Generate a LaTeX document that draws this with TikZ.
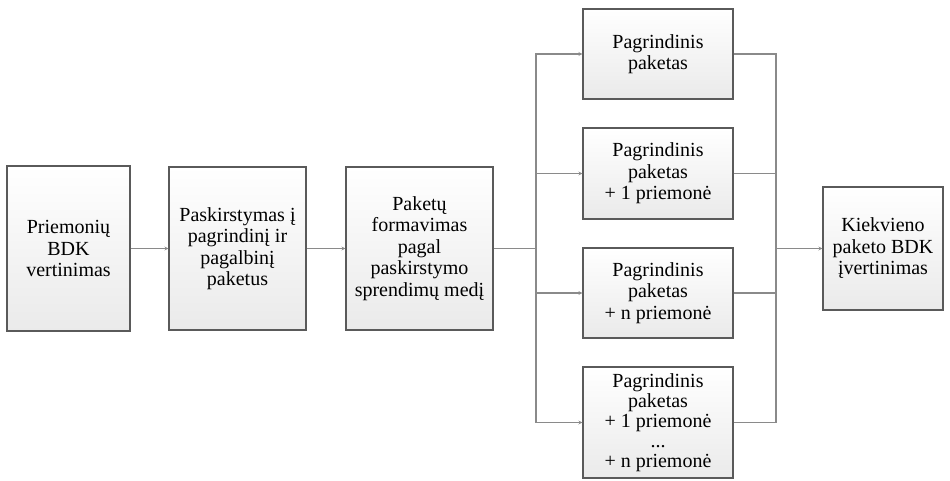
\documentclass[tikz,border=0pt]{standalone}
\usepackage{fontspec}
\setmainfont{Liberation Serif}
\usetikzlibrary{arrows.meta}
\definecolor{boxline}{HTML}{5A5A5A}
\definecolor{conn}{HTML}{8A8A8A}
\definecolor{boxbot}{HTML}{EAEAEA}
\begin{document}
\begin{tikzpicture}[x=1pt,y=-1pt,
  blk/.style={draw=boxline, line width=1.1pt, top color=white, bottom color=boxbot,
    inner sep=0pt, align=center,
    font=\fontsize{20}{21.5}\selectfont},
  conline/.style={draw=conn, line width=1.5pt},
  arr/.style={conline, -{Stealth[length=4pt,width=4pt]}}]
\useasboundingbox (0,0) rectangle (950,481);
\node[blk, minimum width=123pt, minimum height=165pt] (b1) at (68.5,248.5) {Priemonių\\BDK\\vertinimas};
\node[blk, minimum width=137pt, minimum height=163pt] (b2) at (237.5,248.5) {Paskirstymas į\\pagrindinį ir\\pagalbinį\\paketus};
\node[blk, minimum width=147pt, minimum height=163pt] (b3) at (419.5,248.5) {Paketų\\formavimas\\pagal\\paskirstymo\\sprendimų medį};
\node[blk, minimum width=150pt, minimum height=90pt] (r1) at (658,54) {Pagrindinis\\paketas};
\node[blk, minimum width=150pt, minimum height=91pt] (r2) at (658,173.5) {Pagrindinis\\paketas\\+ 1 priemonė};
\node[blk, minimum width=150pt, minimum height=90pt] (r3) at (658,293) {Pagrindinis\\paketas\\+ n priemonė};
\node[blk, minimum width=150pt, minimum height=111pt, font=\fontsize{20}{20}\selectfont] (r4) at (658,422.5) {Pagrindinis\\paketas\\+ 1 priemonė\\...\\+ n priemonė};
\node[blk, minimum width=120pt, minimum height=123pt] (fin) at (883,248.5) {Kiekvieno\\paketo BDK\\įvertinimas};
\coordinate (jl) at (536,248.5);
\coordinate (jr) at (776,248.5);
\draw[arr] (b1.east) -- (b2.west);
\draw[arr] (b2.east) -- (b3.west);
\draw[conline] (b3.east) -- (jl);
\draw[arr] (jl) |- (r1.west);
\draw[arr] (jl) |- (r2.west);
\draw[arr] (jl) |- (r3.west);
\draw[arr] (jl) |- (r4.west);
\draw[conline] (r1.east) -| (jr);
\draw[conline] (r2.east) -| (jr);
\draw[conline] (r3.east) -| (jr);
\draw[conline] (r4.east) -| (jr);
\draw[arr] (jr) -- (fin.west);
\end{tikzpicture}
\end{document}
